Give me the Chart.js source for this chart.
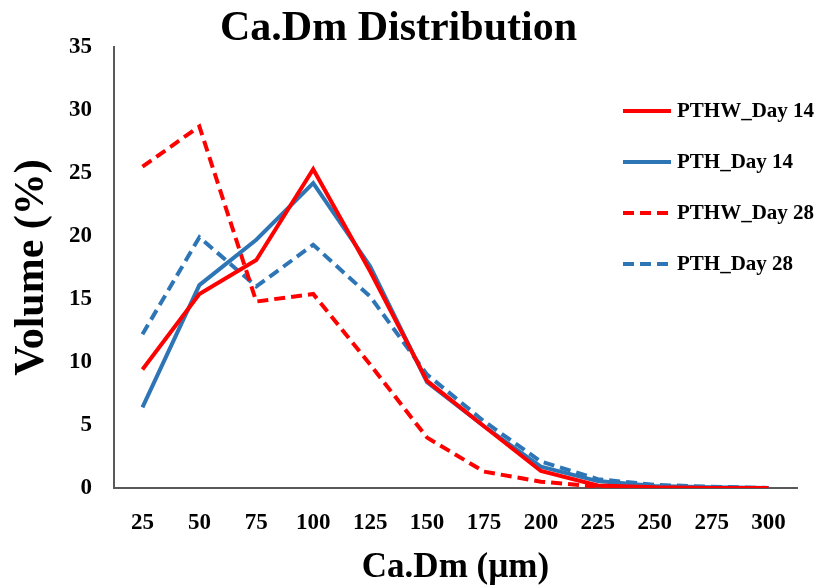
<!DOCTYPE html>
<html>
<head>
<meta charset="utf-8">
<script src="https://cdn.jsdelivr.net/npm/chart.js@4"></script>
<style>
    html, body { margin: 0; padding: 0; background: #ffffff; }
    #wrap { width: 818px; height: 588px; }
</style>
</head>
<body>
<div id="wrap"><canvas id="distChart" width="818" height="588"></canvas></div>
<script>
const categories = ["25", "50", "75", "100", "125", "150", "175", "200", "225", "250", "275", "300"];
const pthwDay14 = [9.4, 15.4, 18.1, 25.3, 17.2, 8.5, 4.9, 1.35, 0.2, 0.05, 0, 0];
const pthDay14 = [6.4, 16.1, 19.7, 24.2, 17.6, 8.4, 4.9, 1.7, 0.55, 0.15, 0.05, 0];
const pthwDay28 = [25.5, 28.7, 14.8, 15.4, 9.8, 4.0, 1.3, 0.5, 0.1, 0.05, 0, 0];
const pthDay28 = [12.2, 19.9, 16.0, 19.3, 15.2, 9.0, 5.3, 2.1, 0.7, 0.25, 0.1, 0];

const serif = '"Liberation Serif", "Times New Roman", serif';
const red = "#ff0000";
const blue = "#2e75b6";

// legend sits inside the plot area on the right, so draw it by hand
const insideLegend = {
    id: "insideLegend",
    afterDraw(chart) {
        const ctx = chart.ctx;
        const area = chart.chartArea;
        ctx.save();
        ctx.font = "bold 21px " + serif;
        ctx.textBaseline = "middle";
        ctx.textAlign = "left";
        chart.data.datasets.forEach((ds, i) => {
            const y = area.top + 64 + i * 51;
            const x = area.right - 174;
            ctx.strokeStyle = ds.borderColor;
            ctx.lineWidth = ds.borderWidth;
            ctx.setLineDash(ds.borderDash || []);
            ctx.beginPath();
            ctx.moveTo(x, y);
            ctx.lineTo(x + 48, y);
            ctx.stroke();
            ctx.setLineDash([]);
            ctx.fillStyle = "#000000";
            ctx.fillText(ds.label, x + 54, y + 1);
        });
        ctx.restore();
    }
};

const ctx = document.getElementById("distChart").getContext("2d");

new Chart(ctx, {
    type: "line",
    data: {
        labels: categories,
        datasets: [
            { label: "PTHW_Day 14", data: pthwDay14, borderColor: red, borderWidth: 4 },
            { label: "PTH_Day 14", data: pthDay14, borderColor: blue, borderWidth: 4 },
            { label: "PTHW_Day 28", data: pthwDay28, borderColor: red, borderWidth: 4, borderDash: [11, 6] },
            { label: "PTH_Day 28", data: pthDay28, borderColor: blue, borderWidth: 4, borderDash: [11, 6] }
        ]
    },
    options: {
        responsive: false,
        animation: false,
        layout: { padding: { left: 0, right: 21, top: 0, bottom: 0 } },
        elements: {
            point: { radius: 0 },
            line: { tension: 0, borderCapStyle: "butt", borderJoinStyle: "miter" }
        },
        plugins: {
            legend: { display: false },
            tooltip: { enabled: false },
            title: {
                display: true,
                text: "Ca.Dm Distribution",
                color: "#000000",
                font: { family: serif, size: 42, weight: "bold", lineHeight: 1 },
                padding: { top: 8, bottom: -3 }
            }
        },
        scales: {
            x: {
                type: "category",
                offset: true,
                grid: { display: false },
                border: { display: true, color: "#595959", width: 2 },
                ticks: {
                    color: "#000000",
                    padding: 13,
                    maxRotation: 0,
                    font: { family: serif, size: 23, weight: "bold" }
                },
                title: {
                    display: true,
                    text: "Ca.Dm (µm)",
                    color: "#000000",
                    padding: 3,
                    font: { family: serif, size: 35, weight: "bold", lineHeight: 1 }
                },
                afterFit(scale) {
                    scale.height = 100;
                }
            },
            y: {
                min: 0,
                max: 35,
                grid: { display: false },
                border: { display: true, color: "#595959", width: 2 },
                ticks: {
                    stepSize: 5,
                    color: "#000000",
                    padding: 14,
                    font: { family: serif, size: 23, weight: "bold" }
                },
                title: {
                    display: true,
                    text: "Volume (%)",
                    color: "#000000",
                    padding: 11,
                    font: { family: serif, size: 42, weight: "bold", lineHeight: 1 }
                },
                afterFit(scale) {
                    scale.width = 114;
                }
            }
        }
    },
    plugins: [insideLegend]
});
</script>
</body>
</html>
